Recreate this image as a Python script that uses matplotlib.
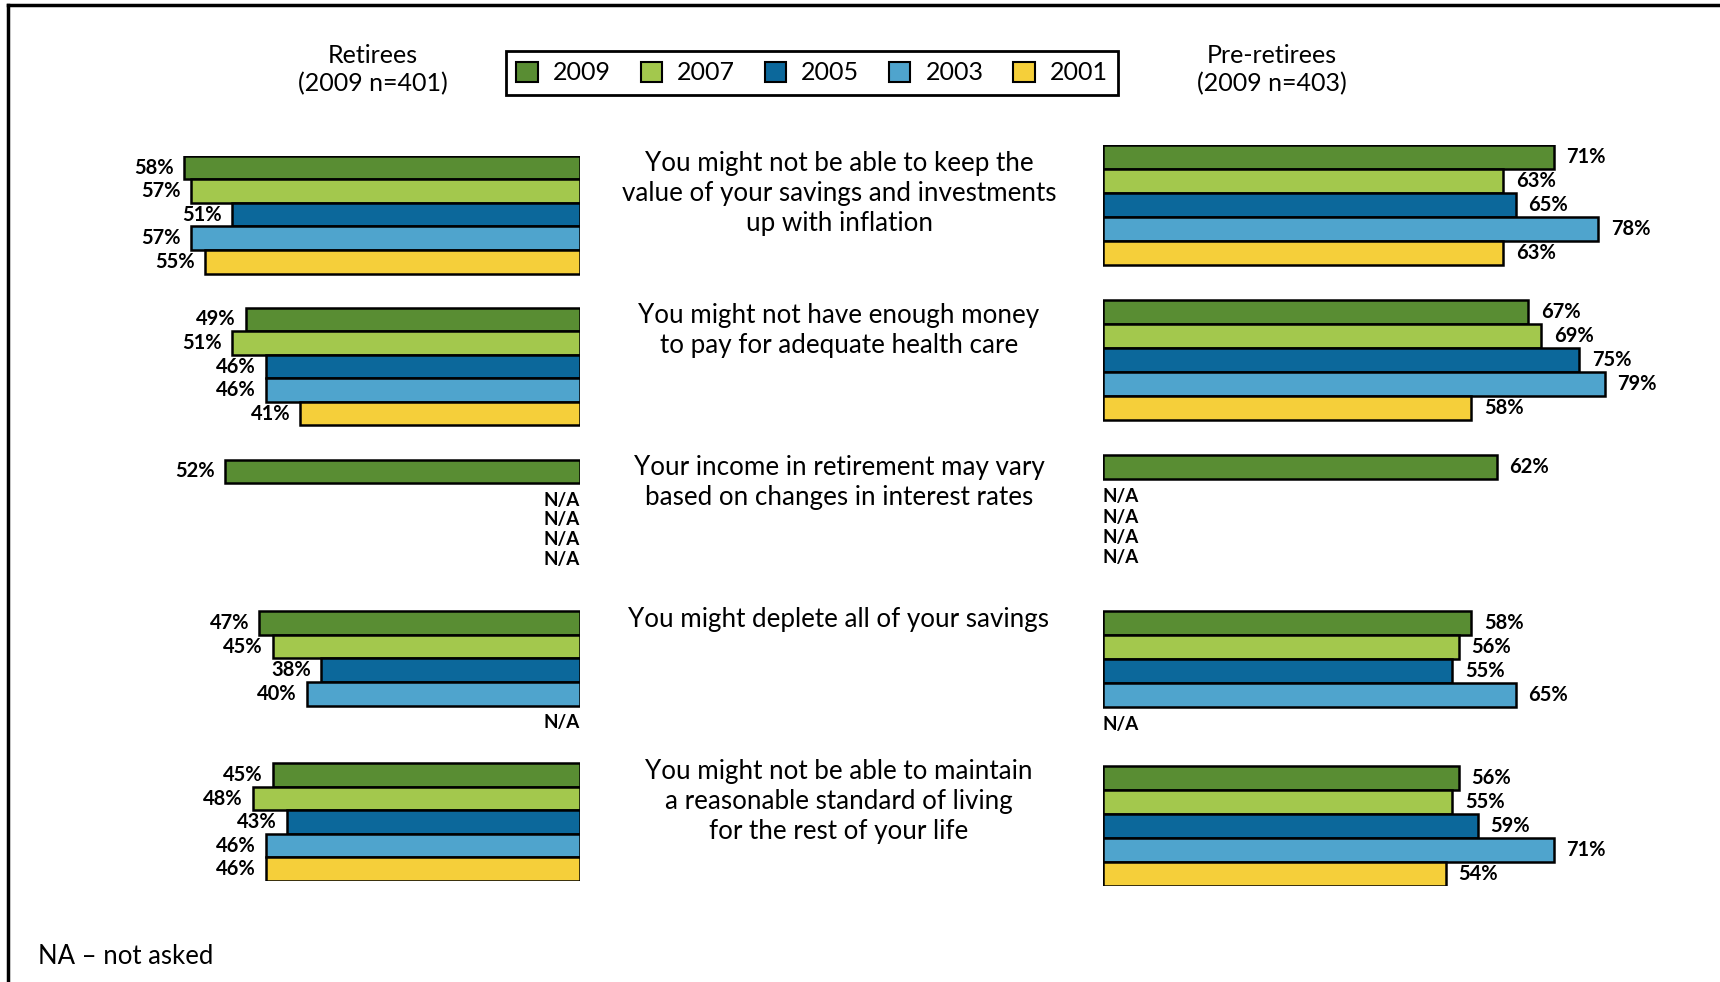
import matplotlib.pyplot as plt
import matplotlib.transforms as mtransforms
from matplotlib.lines import Line2D
from matplotlib.patches import Patch

plt.rcParams['font.family'] = ['Lato', 'DejaVu Sans']

# Data
years = ["2009", "2007", "2005", "2003", "2001"]
colors = ["#598d33", "#a3c84d", "#0c689b", "#4fa4cd", "#f5cf3a"]
questions = [
    "You might not be able to keep the\nvalue of your savings and investments\nup with inflation",
    "You might not have enough money\nto pay for adequate health care",
    "Your income in retirement may vary\nbased on changes in interest rates",
    "You might deplete all of your savings",
    "You might not be able to maintain\na reasonable standard of living\nfor the rest of your life",
]
# None = not asked
retirees = [
    [58, 57, 51, 57, 55],
    [49, 51, 46, 46, 41],
    [52, None, None, None, None],
    [47, 45, 38, 40, None],
    [45, 48, 43, 46, 46],
]
pre_retirees = [
    [71, 63, 65, 78, 63],
    [67, 69, 75, 79, 58],
    [62, None, None, None, None],
    [58, 56, 55, 65, None],
    [56, 55, 59, 71, 54],
]

W, H = 1720, 982
fig = plt.figure(figsize=(W / 100, H / 100), dpi=100)


def px_axes(x0, x1, ytop, ybot):
    return fig.add_axes([x0 / W, 1 - ybot / H, (x1 - x0) / W, (ybot - ytop) / H])


pitch = 6.45
ax_l = px_axes(580 - 80 * 6.82, 580, 155.8, 881)
ax_r = px_axes(1103, 1103 + 95 * 6.35, 144.8, 886.4)
ax_l.set_xlim(80, 0)
ax_r.set_xlim(0, 95)


def draw_panel(ax, data, left):
    for g, vals in enumerate(data):
        first_na = None
        for i, v in enumerate(vals):
            y = g * pitch + i
            if v is None:
                if first_na is None:
                    first_na = i
                yna = g * pitch + first_na + 0.22 + 0.84 * (i - first_na)
                ax.text(0, yna, "N/A", ha='right' if left else 'left', va='center',
                        fontsize=13.5, fontweight='bold')
                continue
            ax.barh(y, v, height=1.0, color=colors[i], edgecolor='black', linewidth=1.8)
            off = 1.5 if left else 2.0
            ax.text(v + off, y, f"{v}%", ha='right' if left else 'left', va='center',
                    fontsize=14.5, fontweight='bold')
    ax.set_ylim(4 * pitch + 4.5, -0.5)
    ax.axis('off')


draw_panel(ax_l, retirees, True)
draw_panel(ax_r, pre_retirees, False)

# Question labels in the middle
trans = mtransforms.blended_transform_factory(fig.transFigure, ax_l.transData)
for g, q in enumerate(questions):
    fig.text(839 / W, g * pitch - 0.7, q, transform=trans, ha='center', va='top',
             fontsize=18.7, linespacing=1.25)

# Headers
fig.text(373 / W, 1 - 69.5 / H, "Retirees\n(2009 n=401)", ha='center', va='center',
         fontsize=18, linespacing=1.27)
fig.text(1272 / W, 1 - 69.5 / H, "Pre-retirees\n(2009 n=403)", ha='center', va='center',
         fontsize=18, linespacing=1.27)

# Legend
handles = [Patch(facecolor=c, edgecolor='black', linewidth=1.5) for c in colors]
leg = fig.legend(handles, years, ncol=5, loc='center', bbox_to_anchor=(812 / W, 1 - 73 / H),
                 frameon=True, fancybox=False, edgecolor='black', framealpha=1,
                 handlelength=0.85, handleheight=0.85, columnspacing=1.2, handletextpad=0.6,
                 fontsize=18, borderpad=0.42)
leg.get_frame().set_linewidth(2)

fig.text(38 / W, 1 - 957 / H, "NA \u2013 not asked", ha='left', va='center', fontsize=18.5)

# Frame (top and left edges)
fig.add_artist(Line2D([8 / W, 1], [1 - 5 / H, 1 - 5 / H], transform=fig.transFigure,
                      color='black', linewidth=2.5))
fig.add_artist(Line2D([8 / W, 8 / W], [0, 1 - 5 / H], transform=fig.transFigure,
                      color='black', linewidth=2.5))

fig.savefig("out.png", dpi=100)
